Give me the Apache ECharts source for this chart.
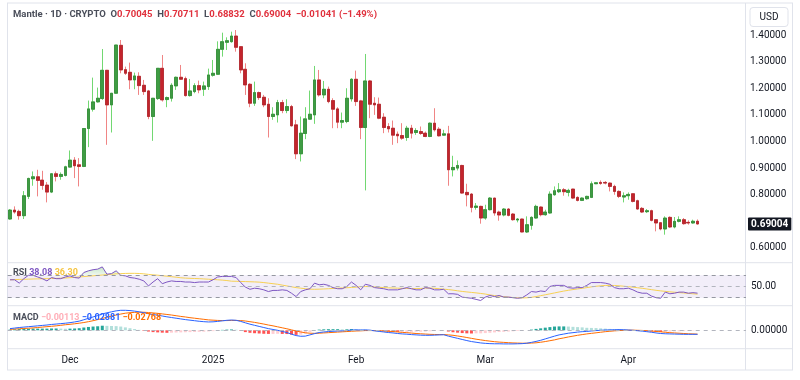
<!DOCTYPE html>
<html><head><meta charset="utf-8">
<script src="https://cdn.jsdelivr.net/npm/echarts/dist/echarts.min.js"></script>
<style>html,body{margin:0;padding:0;background:#fff}#c{width:800px;height:380px}</style>
</head><body><div id="c"></div>
<script>
// ---------- data ----------
const startDate = '2024-11-18';
const emptyDays = 10;
const openP = [0.7088,0.7425,0.7375,0.7213,0.7938,0.8600,0.8675,0.8550,0.8363,0.8100,
0.8788,0.8688,0.8725,0.9038,0.9300,0.9125,0.9063,1.0488,1.1213,1.1488,
1.1613,1.2675,1.1375,1.1813,1.3613,1.2700,1.2600,1.2313,1.2450,1.2113,
1.1900,1.0938,1.1613,1.2750,1.1575,1.1625,1.2088,1.2413,1.2363,1.1725,
1.1875,1.2100,1.1963,1.2063,1.2488,1.2525,1.3463,1.3725,1.3750,1.3963,
1.3563,1.2713,1.2150,1.1438,1.1838,1.1663,1.1400,1.0938,1.1000,1.1463,
1.1163,1.1313,1.0625,0.9538,1.0300,1.0838,1.1000,1.2313,1.1750,1.1963,
1.1538,1.1225,1.0725,1.0750,1.1600,1.2338,1.1525,1.0525,1.2275,1.1438,
1.1400,1.0913,1.0563,1.0500,1.0275,1.0225,1.0150,1.0500,1.0338,1.0375,
1.0313,1.0188,1.0688,1.0463,1.0238,1.0288,0.8938,0.9000,0.9100,0.8088,
0.8025,0.7525,0.7563,0.7125,0.7438,0.7875,0.7350,0.7238,0.7463,0.7275,
0.7050,0.7088,0.6600,0.6850,0.7125,0.7538,0.7250,0.7313,0.8000,0.8113,
0.8188,0.8088,0.8213,0.7900,0.7788,0.7850,0.7900,0.8413,0.8463,0.8463,
0.8438,0.8313,0.8125,0.7913,0.7963,0.8038,0.7775,0.7488,0.7363,0.7400,
0.7063,0.6950,0.6713,0.7150,0.6788,0.7000,0.7063,0.6963,0.6938,0.70045];
const highP = [0.7463,0.7563,0.7438,0.8138,0.8638,0.8875,0.8938,0.8900,0.8475,0.8813,
0.8875,0.8838,0.9088,0.9663,0.9413,0.9375,1.0500,1.1538,1.2400,1.2025,
1.3475,1.2688,1.1813,1.3625,1.3813,1.2813,1.2963,1.2588,1.2600,1.2313,
1.1938,1.1625,1.2750,1.3250,1.1688,1.2188,1.2438,1.2875,1.2438,1.2350,
1.2188,1.2288,1.2250,1.2738,1.3063,1.3763,1.4088,1.3913,1.4125,1.4188,
1.3588,1.2938,1.2188,1.2250,1.1875,1.1750,1.1625,1.1288,1.1563,1.1563,
1.1588,1.1375,1.0813,1.0938,1.1288,1.1913,1.2838,1.2688,1.2275,1.2063,
1.1625,1.1288,1.1088,1.2000,1.2375,1.2663,1.1563,1.3288,1.2313,1.1663,
1.1650,1.1063,1.0688,1.0788,1.0375,1.0688,1.0588,1.0625,1.0500,1.0563,
1.0375,1.0713,1.1250,1.0538,1.0438,1.0588,0.9463,0.9288,0.9125,0.8413,
0.8063,0.7688,0.7588,0.7625,0.7913,0.7888,0.7400,0.7500,0.7500,0.7313,
0.7125,0.7100,0.7188,0.7188,0.7625,0.7563,0.7438,0.8125,0.8313,0.8438,
0.8250,0.8225,0.8225,0.7938,0.7900,0.7963,0.8500,0.8463,0.8538,0.8513,
0.8463,0.8375,0.8163,0.8088,0.8088,0.8063,0.7813,0.7538,0.7463,0.7438,
0.7088,0.6963,0.7188,0.7188,0.7163,0.7188,0.7125,0.7038,0.7063,0.70711];
const lowP = [0.7063,0.7288,0.7063,0.7088,0.7838,0.8338,0.7938,0.8188,0.7713,0.8063,
0.8500,0.8563,0.8688,0.9025,0.8625,0.8313,0.9038,0.9788,1.1125,1.1463,
1.1563,0.9875,1.0338,1.1788,1.2563,1.2500,1.1963,1.1963,1.1750,1.1750,
1.0838,1.0025,1.1563,1.1500,1.1288,1.1500,1.1938,1.2313,1.1688,1.1688,
1.1813,1.1813,1.1713,1.1938,1.2438,1.2500,1.3188,1.3438,1.3713,1.3375,
1.2563,1.1750,1.1288,1.1338,1.1563,1.1288,1.0150,1.0813,1.0713,1.1063,
1.1063,1.0563,0.9338,0.9250,1.0088,1.0813,1.0663,1.1688,1.1625,1.1438,
1.0500,1.0500,1.0500,1.0688,1.1500,1.1338,1.0088,0.8163,1.0875,1.1000,
1.0838,1.0313,1.0338,0.9875,0.9938,1.0063,1.0025,1.0113,1.0250,1.0250,
1.0163,1.0163,1.0375,1.0188,1.0213,0.8338,0.8688,0.8913,0.8038,0.7563,
0.7338,0.7438,0.6913,0.7063,0.7413,0.7213,0.7025,0.7188,0.7188,0.7025,
0.6963,0.6588,0.6563,0.6688,0.7100,0.7188,0.7213,0.7288,0.7963,0.8063,
0.7963,0.7938,0.7838,0.7750,0.7763,0.7813,0.7875,0.8400,0.8375,0.8388,
0.8125,0.8000,0.7875,0.7713,0.7813,0.7713,0.7438,0.7313,0.7313,0.7000,
0.6625,0.6663,0.6500,0.6750,0.6738,0.6963,0.6875,0.6875,0.6913,0.68832];
const closeP = [0.7425,0.7350,0.7213,0.7963,0.8613,0.8675,0.8538,0.8350,0.8100,0.8788,
0.8688,0.8763,0.9050,0.9300,0.9088,0.9063,1.0488,1.1225,1.1488,1.1625,
1.2675,1.1375,1.1813,1.3625,1.2688,1.2563,1.2313,1.2463,1.2100,1.1875,
1.0938,1.1625,1.2750,1.1563,1.1650,1.2113,1.2413,1.2338,1.1725,1.1900,
1.2100,1.1938,1.2088,1.2500,1.2563,1.3463,1.3750,1.3788,1.3963,1.3538,
1.2688,1.2125,1.1438,1.1838,1.1650,1.1375,1.0938,1.1025,1.1463,1.1163,
1.1313,1.0588,0.9538,1.0313,1.0850,1.1025,1.2313,1.1750,1.1963,1.1500,
1.1213,1.0725,1.0788,1.1625,1.2338,1.1500,1.0525,1.2275,1.1400,1.1375,
1.0875,1.0525,1.0475,1.0238,1.0213,1.0125,1.0500,1.0313,1.0413,1.0300,
1.0188,1.0688,1.0438,1.0213,1.0288,0.8938,0.9025,0.9100,0.8063,0.8000,
0.7525,0.7575,0.7125,0.7438,0.7875,0.7313,0.7238,0.7463,0.7225,0.7063,
0.7088,0.6600,0.6875,0.7150,0.7563,0.7250,0.7350,0.8025,0.8150,0.8188,
0.8113,0.8163,0.7875,0.7788,0.7875,0.7938,0.8413,0.8450,0.8425,0.8438,
0.8313,0.8125,0.7938,0.7963,0.8013,0.7750,0.7463,0.7350,0.7400,0.7038,
0.6938,0.6713,0.7125,0.6788,0.7000,0.7063,0.6913,0.6938,0.70045,0.69004];
const rsi = [62,62,56,64,70,70,67,64,60,66,64,64,67,69,66,65,75,78,80,81,
85,72,73,78,70,69,66,65,63,60,51,58,64,55,58,60,59,59,58,58,
57,58,58,58,62,67,68,68,68,66,57,49,45,47,46,44,41,43,43,44,
43,38,32,41,44,46,56,53,54,52,48,46,46,50,58,52,44,54,52,48,
47,46,44,44,44,46,48,46,44,44,48,47,44,44,45,37,37,36,31,30,
29,27,25,31,34,32,34,31,31,30,29,30,35,41,40,42,41,50,52,52,
52,48,47,48,48,52,57,57,57,56,54,48,46,46,47,44,40,38,38,33,
30,29,40,37,38,40,40,38,39,38.08];
const rsiMA = [62,62.3,62.6,62.9,63.1,63.4,63.6,63.8,64,64.3,64.5,64.8,65.2,65.8,66.4,67,67.7,68.4,69.1,69.8,
70.5,71.2,71.8,72.6,73,73.3,73.5,73.5,73.2,72.6,71.6,70.8,70.2,69.2,68.4,67.5,66.6,65.6,65,64.6,
64.3,64,63.5,63,62.5,62,61.4,60.6,59.5,59.3,59,58.8,58.5,58.2,57.8,57,56,55,54,52.5,
51,49.5,48,47,46,45.3,45,45.2,45.6,46,46.5,47,47.4,47.8,48.3,48.8,49.5,50,49.8,49.3,
48.6,48,47.6,47.3,47,46.7,46.4,46.2,46.2,46.5,47,47.2,46.8,46,45.2,44.5,43.5,42.3,41.2,40.3,
39.4,38.6,37.6,36.5,35,33.8,32.8,31.8,31,30.3,29.8,29.6,29.8,30.6,32,33.6,35.2,36.8,38.5,40.2,
41.8,43.2,44.5,45.6,46.8,48,49.3,50.4,51.2,51.8,52,51.8,51.2,50.5,49.7,48.8,47.8,46.8,45.6,44.4,
43.2,42.2,41.3,40.5,39.8,39.1,38.4,37.7,37,36.3];
const macd = [0.012,0.016,0.02,0.023,0.026,0.029,0.032,0.035,0.038,0.042,0.045,0.048,0.051,0.055,0.06,0.066,0.076,0.086,0.096,0.106,
0.118,0.126,0.133,0.14,0.144,0.144,0.142,0.138,0.133,0.127,0.119,0.113,0.109,0.103,0.097,0.092,0.087,0.082,0.077,0.073,
0.069,0.065,0.062,0.06,0.061,0.064,0.068,0.072,0.074,0.072,0.064,0.054,0.044,0.036,0.028,0.02,0.012,0.006,0,-0.008,
-0.016,-0.028,-0.038,-0.043,-0.042,-0.033,-0.024,-0.016,-0.012,-0.009,-0.007,-0.005,-0.004,-0.002,0.002,0.003,0.002,0.003,0.001,-0.004,
-0.008,-0.012,-0.016,-0.019,-0.023,-0.026,-0.028,-0.031,-0.033,-0.035,-0.036,-0.036,-0.035,-0.033,-0.032,-0.042,-0.05,-0.058,-0.066,-0.074,
-0.081,-0.086,-0.091,-0.094,-0.096,-0.097,-0.097,-0.098,-0.098,-0.098,-0.097,-0.096,-0.093,-0.087,-0.08,-0.072,-0.062,-0.052,-0.042,-0.033,
-0.027,-0.021,-0.017,-0.013,-0.01,-0.008,-0.005,-0.002,0,0.002,0.003,0.004,0.005,0.004,0.002,0,-0.003,-0.006,-0.01,-0.014,
-0.019,-0.023,-0.025,-0.026,-0.027,-0.028,-0.029,-0.029,-0.029,-0.02881];
const signal = [0.007,0.009,0.011,0.013,0.015,0.017,0.02,0.023,0.026,0.029,0.032,0.036,0.04,0.043,0.047,0.051,0.056,0.062,0.069,0.077,
0.085,0.094,0.102,0.11,0.117,0.123,0.127,0.129,0.13,0.13,0.128,0.125,0.122,0.118,0.114,0.11,0.105,0.1,0.096,0.091,
0.087,0.083,0.079,0.075,0.073,0.071,0.07,0.07,0.071,0.071,0.07,0.067,0.062,0.057,0.051,0.045,0.038,0.032,0.025,0.018,
0.011,0.003,-0.005,-0.012,-0.018,-0.021,-0.022,-0.021,-0.019,-0.017,-0.015,-0.013,-0.011,-0.009,-0.007,-0.005,-0.004,-0.002,-0.002,-0.002,
-0.003,-0.005,-0.007,-0.009,-0.012,-0.015,-0.017,-0.02,-0.023,-0.025,-0.027,-0.029,-0.03,-0.031,-0.031,-0.033,-0.036,-0.041,-0.046,-0.052,
-0.058,-0.064,-0.069,-0.074,-0.078,-0.082,-0.085,-0.087,-0.089,-0.091,-0.092,-0.093,-0.093,-0.092,-0.09,-0.086,-0.081,-0.075,-0.069,-0.061,
-0.055,-0.048,-0.042,-0.036,-0.031,-0.026,-0.022,-0.018,-0.014,-0.01,-0.007,-0.004,-0.002,0,0.001,0.001,0,-0.001,-0.003,-0.005,
-0.008,-0.011,-0.014,-0.017,-0.019,-0.021,-0.023,-0.025,-0.026,-0.02768];
const hist = [0.005,0.007,0.009,0.01,0.011,0.012,0.012,0.012,0.012,0.013,0.013,0.012,0.011,0.012,0.013,0.015,0.02,0.024,0.027,0.029,
0.033,0.032,0.031,0.03,0.027,0.021,0.015,0.009,0.003,-0.004,-0.009,-0.013,-0.015,-0.017,-0.018,-0.017,-0.016,-0.015,-0.014,-0.013,
-0.012,-0.011,-0.01,-0.008,-0.006,-0.002,0.003,0.005,0.006,0.004,-0.004,-0.013,-0.018,-0.021,-0.023,-0.025,-0.026,-0.026,-0.025,-0.026,
-0.027,-0.031,-0.033,-0.031,-0.024,-0.012,-0.002,0.005,0.007,0.008,0.008,0.008,0.007,0.007,0.009,0.008,0.006,0.005,0.003,-0.002,
-0.005,-0.007,-0.009,-0.01,-0.011,-0.011,-0.011,-0.011,-0.01,-0.01,-0.009,-0.007,-0.005,-0.002,-0.001,-0.009,-0.014,-0.017,-0.02,-0.022,
-0.023,-0.022,-0.022,-0.02,-0.018,-0.015,-0.012,-0.011,-0.009,-0.007,-0.005,-0.003,0,0.005,0.01,0.014,0.019,0.023,0.027,0.028,
0.028,0.027,0.025,0.023,0.021,0.018,0.017,0.016,0.014,0.012,0.01,0.008,0.007,0.004,0.001,-0.001,-0.003,-0.005,-0.007,-0.009,
-0.011,-0.012,-0.011,-0.009,-0.008,-0.007,-0.006,-0.004,-0.003,-0.00113];
const priceTicks = [0.6,0.8,0.9,1.0,1.1,1.2,1.3,1.4];
const monthNames = ['Jan','Feb','Mar','Apr','May','Jun','Jul','Aug','Sep','Oct','Nov','Dec'];

// ---------- build ----------
const n = openP.length;
const dates = [];
{ let t = Date.parse(startDate + 'T00:00:00Z');
  for (let i = 0; i < n + emptyDays; i++) { dates.push(new Date(t).toISOString().slice(0,10)); t += 86400000; } }
const pad = a => a.concat(Array(emptyDays).fill('-'));
const UPB='#3f9c44', UPW='#72d872', UPE='#2c7a31';
const DNB='#c3242c', DNW='#f08585', DNE='#9e1b22';
const ohlc = openP.map((o,i)=>[o, closeP[i], lowP[i], highP[i]]);
const bodies = openP.map((o,i)=>[o, closeP[i], Math.min(o,closeP[i]), Math.max(o,closeP[i])]);
const histData = hist.map((v,i)=>{
  const p = i>0 ? hist[i-1] : v;
  const c = v>=0 ? (v>=p ? '#26A69A' : '#B2DFDB') : (v<p ? '#FF5252' : '#FFCDD2');
  return {value:v, itemStyle:{color:c}};
});
const obTop = rsi.map(v=>Math.max(v-70,0));
const base70 = rsi.map(()=>70);
const fmtS = v => (v<0?'\u2212':'') + Math.abs(v).toFixed(5);
const lastC = closeP[n-1], prevC = closeP[n-2];
const chg = lastC - prevC, pct = chg/prevC*100;

const F = 'Roboto, "Noto Sans", sans-serif';
const TXT = '#131722';
const L = 7.7, R = 54;
const gridsY = [{top:8.4,height:266.2},{top:262.7,height:43},{top:305.7,height:43}];
const catAxis = (gi, showLabels) => ({
  type:'category', gridIndex:gi, data:dates, boundaryGap:true,
  axisLine:{show:false}, axisTick:{show:false}, splitLine:{show:false},
  axisLabel: showLabels ? {
    show:true, color:TXT, fontSize:10, fontFamily:F, margin:7,
    interval:(idx,val)=>val.endsWith('-01'),
    formatter:val=>{const [y,m]=val.split('-'); return m==='01'?y:monthNames[+m-1];}
  } : {show:false}
});
const rt = (c, s) => ({color:c, fontSize:s||9, fontFamily:F});

const chart = echarts.init(document.getElementById('c'));
chart.setOption({
  animation:false,
  backgroundColor:'#ffffff',
  title:[
    {left:13, top:10, padding:0, text:
      '{n|Mantle · 1D · CRYPTO}  {n|O}{r|'+openP[n-1].toFixed(5)+'}  {n|H}{r|'+highP[n-1].toFixed(5)+
      '}  {n|L}{r|'+lowP[n-1].toFixed(5)+'}  {n|C}{r|'+closeP[n-1].toFixed(5)+'}  {r|'+fmtS(chg)+' ('+(pct<0?'\u2212':'')+Math.abs(pct).toFixed(2)+'%)}',
      textStyle:{fontSize:9.5, fontFamily:F, rich:{n:rt('#4a4e5a',9.5), r:rt('#e0313d',9.5)}}},
    {left:13, top:268, padding:0, text:'{n|RSI} {p|'+rsi[n-1].toFixed(2)+'} {y|'+rsiMA[n-1].toFixed(2)+'}',
      textStyle:{fontSize:9,fontFamily:F,rich:{n:rt('#4a4e5a'),p:rt('#7E57C2'),y:rt('#F5C542')}}},
    {left:13, top:313, padding:0, text:'{n|MACD} {h|'+fmtS(hist[n-1])+'} {b|'+fmtS(macd[n-1])+'} {o|'+fmtS(signal[n-1])+'}',
      textStyle:{fontSize:9,fontFamily:F,rich:{n:rt('#4a4e5a'),h:rt('#FFAFB8'),b:rt('#2962FF'),o:rt('#FF6D00')}}}
  ],
  grid: gridsY.map(g=>({left:L, right:R, top:g.top, height:g.height})),
  xAxis:[catAxis(0,false), catAxis(1,false), catAxis(2,true)],
  yAxis:[
    {type:'value', gridIndex:0, position:'right', min:0.5, max:1.5, interval:0.1,
     axisLine:{show:false}, axisTick:{show:false}, splitLine:{show:false},
     axisLabel:{color:TXT, fontSize:10, fontFamily:F, margin:4, align:'left',
       formatter:v=>{const k=Math.round(v*10)/10; return priceTicks.some(t=>Math.abs(t-k)<1e-9)?k.toFixed(5):'';}}},
    {type:'value', gridIndex:1, position:'right', min:15.7, max:92.5,
     axisLine:{show:false}, axisTick:{show:false}, splitLine:{show:false}, axisLabel:{show:false}},
    {type:'value', gridIndex:2, position:'right', min:-0.1325, max:0.1771,
     axisLine:{show:false}, axisTick:{show:false}, splitLine:{show:false}, axisLabel:{show:false}}
  ],
  series:[
    {type:'candlestick', xAxisIndex:0, yAxisIndex:0, data:pad(ohlc), barWidth:3.2,
     itemStyle:{color:UPB, color0:DNB, borderColor:UPW, borderColor0:DNW, borderWidth:1},
     markLine:{silent:true, symbol:'none', animation:false,
       data:[{yAxis:lastC}],
       lineStyle:{color:'rgba(0,0,0,0)', width:1, type:'solid'},
       label:{show:true, position:'end', distance:2, formatter:lastC.toFixed(5), color:'#ffffff', backgroundColor:'#131722',
              fontSize:10, fontFamily:F, fontWeight:'bold', padding:[2,3,1,3], borderRadius:1}}},
    {type:'candlestick', xAxisIndex:0, yAxisIndex:0, data:pad(bodies), barWidth:3.2,
     itemStyle:{color:UPB, color0:DNB, borderColor:UPE, borderColor0:DNE, borderWidth:0.6}},
    // RSI
    {type:'line', xAxisIndex:1, yAxisIndex:1, data:pad(base70), stack:'ob', symbol:'none', lineStyle:{opacity:0}, silent:true,
     markArea:{silent:true, itemStyle:{color:'rgba(126,87,194,0.10)'}, data:[[{yAxis:30},{yAxis:70}]]},
     markLine:{silent:true, symbol:'none', animation:false,
       lineStyle:{color:'#9598A1', type:[4,4], width:1},
       data:[{yAxis:70,label:{show:false}},
             {yAxis:50,lineStyle:{color:'#b2b5be',type:[4,4]},label:{show:true,position:'end',distance:5,formatter:'50.00',color:TXT,fontSize:10,fontFamily:F}},
             {yAxis:30,label:{show:false}}]}},
    {type:'line', xAxisIndex:1, yAxisIndex:1, data:pad(obTop), stack:'ob', symbol:'none', lineStyle:{opacity:0}, silent:true,
     areaStyle:{color:new echarts.graphic.LinearGradient(0,0,0,1,[{offset:0,color:'rgba(76,175,80,0.45)'},{offset:1,color:'rgba(76,175,80,0.12)'}])}},
    {type:'line', xAxisIndex:1, yAxisIndex:1, data:pad(rsiMA), symbol:'none', lineStyle:{color:'#F7D154', width:1}},
    {type:'line', xAxisIndex:1, yAxisIndex:1, data:pad(rsi), symbol:'none', lineStyle:{color:'#7E57C2', width:1}},
    // MACD
    {type:'bar', xAxisIndex:2, yAxisIndex:2, data:pad(histData), barWidth:3,
     markLine:{silent:true, symbol:'none', animation:false,
       lineStyle:{color:'#b2b5be', type:[4,4], width:1},
       data:[{yAxis:0, label:{show:true, position:'end', distance:5, formatter:'0.00000', color:TXT, fontSize:10, fontFamily:F}}]}},
    {type:'line', xAxisIndex:2, yAxisIndex:2, data:pad(signal), symbol:'none', lineStyle:{color:'#FF6D00', width:1}},
    {type:'line', xAxisIndex:2, yAxisIndex:2, data:pad(macd), symbol:'none', lineStyle:{color:'#2962FF', width:1}}
  ],
  graphic:[
    {type:'line', shape:{x1:7,y1:262.7,x2:793,y2:262.7}, style:{stroke:'#e0e3eb',lineWidth:1}, silent:true},
    {type:'line', shape:{x1:7,y1:305.7,x2:793,y2:305.7}, style:{stroke:'#e0e3eb',lineWidth:1}, silent:true},
    {type:'line', shape:{x1:7,y1:348.7,x2:793,y2:348.7}, style:{stroke:'#e0e3eb',lineWidth:1}, silent:true},
    {type:'line', shape:{x1:7,y1:370,x2:793,y2:370}, style:{stroke:'#e0e3eb',lineWidth:1}, silent:true},
    {type:'line', shape:{x1:7,y1:3,x2:793,y2:3}, style:{stroke:'#e0e3eb',lineWidth:1}, silent:true},
    {type:'line', shape:{x1:7.5,y1:3,x2:7.5,y2:370}, style:{stroke:'#e0e3eb',lineWidth:1}, silent:true},
    {type:'line', shape:{x1:745.5,y1:3,x2:745.5,y2:370}, style:{stroke:'#e0e3eb',lineWidth:1}, silent:true},
    {type:'line', shape:{x1:792.5,y1:3,x2:792.5,y2:370}, style:{stroke:'#e0e3eb',lineWidth:1}, silent:true},
    {type:'rect', shape:{x:750,y:7.5,width:38,height:19,r:3}, style:{fill:'#fff',stroke:'#e0e3eb',lineWidth:1}, silent:true},
    {type:'text', x:769, y:17, style:{text:'USD', fill:TXT, font:'10px '+F, textAlign:'center', textVerticalAlign:'middle'}, silent:true}
  ]
});
</script></body></html>
